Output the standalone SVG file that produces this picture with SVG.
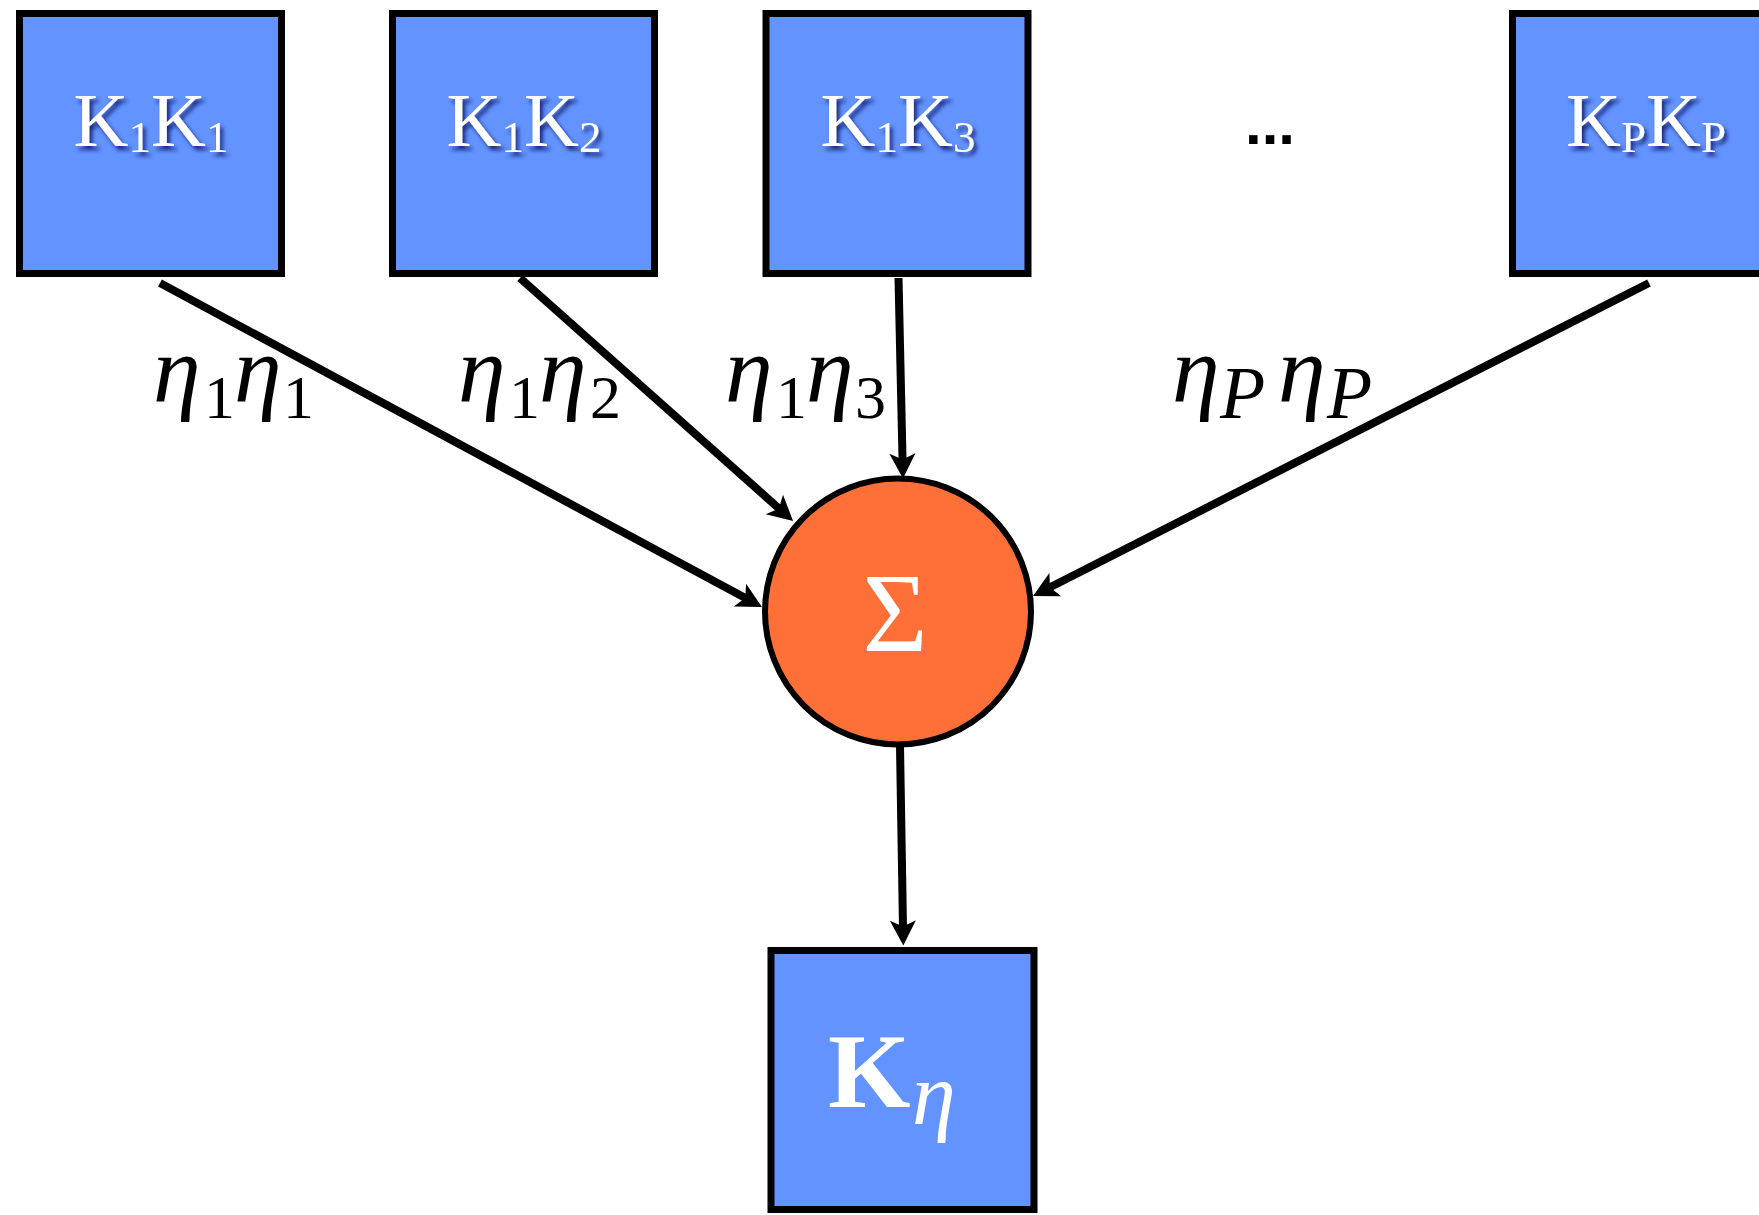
<svg xmlns="http://www.w3.org/2000/svg" width="1759" height="1215" viewBox="0 0 1759 1215">
  <style>
    .box { fill: #6293FF; stroke: #000; stroke-width: 7; }
    .sum { fill: #FF7038; stroke: #000; stroke-width: 6; }
    .klab { fill: #fff; font-family: "Liberation Serif", "Times New Roman", serif; font-size: 76px; }
    .ksub { font-size: 45px; }
    .eta { fill: #000; font-family: "Liberation Serif", "Times New Roman", serif; font-style: italic; font-size: 96px; }
    .esub { font-style: normal; font-size: 62px; }
    .psub { font-size: 74px; }
    .edge { stroke: #000; stroke-width: 8; fill: none; marker-end: url(#arrow); }
  </style>
  <defs>
    <marker id="arrow" markerUnits="userSpaceOnUse" markerWidth="30" markerHeight="30" refX="13" refY="13" orient="auto" overflow="visible">
      <path d="M0,0 L25,13 L0,26 L6,13 Z" fill="#000"/>
    </marker>
    <filter id="shadow" x="-20%" y="-20%" width="140%" height="160%">
      <feDropShadow dx="3" dy="4" stdDeviation="2" flood-color="#00004a" flood-opacity="0.75"/>
    </filter>
  </defs>

  <rect width="1759" height="1215" fill="#fff"/>

  <!-- connectors -->
  <g id="connectors">
    <line class="edge" x1="160" y1="283" x2="751.4" y2="601.3"/>
    <line class="edge" x1="520" y1="278" x2="784.1" y2="513.1"/>
    <line class="edge" x1="898.5" y1="278" x2="902.7" y2="466.5"/>
    <line class="edge" x1="1649" y1="283" x2="1043.7" y2="590.5"/>
    <line class="edge" x1="900" y1="746" x2="903.1" y2="933.5"/>
  </g>

  <!-- edge weights -->
  <g id="weights">
    <text class="eta" y="402"><tspan x="153">η</tspan><tspan class="esub" x="204" y="418">1</tspan><tspan x="234" y="402">η</tspan><tspan class="esub" x="283" y="418">1</tspan></text>
    <text class="eta" y="402"><tspan x="458">η</tspan><tspan class="esub" x="509" y="418">1</tspan><tspan x="539" y="402">η</tspan><tspan class="esub" x="590" y="418">2</tspan></text>
    <text class="eta" y="402"><tspan x="725">η</tspan><tspan class="esub" x="776" y="418">1</tspan><tspan x="806" y="402">η</tspan><tspan class="esub" x="855" y="418">3</tspan></text>
    <text class="eta" y="402"><tspan x="1172">η</tspan><tspan class="psub" x="1220" y="418">P</tspan><tspan x="1278" y="402">η</tspan><tspan class="psub" x="1327" y="418">P</tspan></text>
  </g>

  <!-- input kernels -->
  <g id="k1k1">
    <rect class="box" x="19.5" y="13.5" width="262" height="260"/>
    <text class="klab" x="151" y="146" text-anchor="middle" filter="url(#shadow)">K<tspan class="ksub" dy="6">1</tspan><tspan dy="-6">K</tspan><tspan class="ksub" dy="6">1</tspan></text>
  </g>
  <g id="k1k2">
    <rect class="box" x="392.5" y="13.5" width="262" height="260"/>
    <text class="klab" x="524" y="146" text-anchor="middle" filter="url(#shadow)">K<tspan class="ksub" dy="6">1</tspan><tspan dy="-6">K</tspan><tspan class="ksub" dy="6">2</tspan></text>
  </g>
  <g id="k1k3">
    <rect class="box" x="766" y="13.5" width="262" height="260"/>
    <text class="klab" x="898" y="146" text-anchor="middle" filter="url(#shadow)">K<tspan class="ksub" dy="6">1</tspan><tspan dy="-6">K</tspan><tspan class="ksub" dy="6">3</tspan></text>
  </g>
  <g id="ellipsis">
    <text x="1270" y="144" text-anchor="middle" font-family="Liberation Sans, Arial, sans-serif" font-weight="bold" font-size="60" fill="#000">...</text>
  </g>
  <g id="kpkp">
    <rect class="box" x="1512.5" y="13.5" width="262" height="260"/>
    <text class="klab" x="1646" y="146" text-anchor="middle" filter="url(#shadow)">K<tspan class="ksub" dy="6">P</tspan><tspan dy="-6">K</tspan><tspan class="ksub" dy="6">P</tspan></text>
  </g>

  <!-- summation -->
  <g id="sum">
    <circle class="sum" cx="898" cy="611.5" r="133"/>
    <text x="895" y="651" text-anchor="middle" font-family="Liberation Serif, Times New Roman, serif" font-size="112" fill="#fff">Σ</text>
  </g>

  <!-- combined kernel -->
  <g id="k-eta">
    <rect class="box" x="771" y="950.5" width="263" height="259"/>
    <text x="828" y="1107" font-family="Liberation Serif, Times New Roman, serif" fill="#fff"><tspan font-weight="bold" font-size="106">K</tspan><tspan font-style="italic" font-size="88" x="912" y="1124">η</tspan></text>
  </g>
</svg>
